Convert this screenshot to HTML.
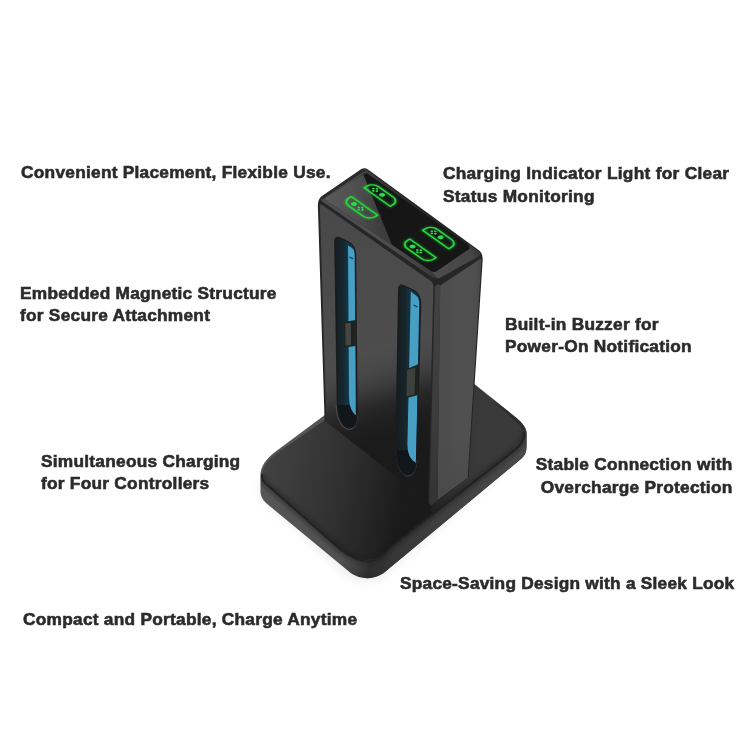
<!DOCTYPE html>
<html><head><meta charset="utf-8">
<style>
html,body{margin:0;padding:0;background:#fff;}
body{width:750px;height:750px;position:relative;overflow:hidden;font-family:"Liberation Sans",Arial,sans-serif;}
.t{position:absolute;font-weight:bold;font-size:17.3px;letter-spacing:0.25px;line-height:22.2px;color:#2b2b2b;-webkit-text-stroke:0.6px #2b2b2b;white-space:nowrap;transform:scaleX(1.0012);transform-origin:0 0;}
.r{text-align:right;transform-origin:100% 0;}
svg{position:absolute;left:0;top:0}
</style></head><body>

<svg width="750" height="750" viewBox="0 0 750 750">
<defs>
<linearGradient id="gFront" x1="380" y1="200" x2="463.9" y2="479.8" gradientUnits="userSpaceOnUse"><stop offset="0" stop-color="#494949"/><stop offset="0.49" stop-color="#4d4d4d"/><stop offset="0.557" stop-color="#474747"/><stop offset="0.607" stop-color="#3d3d3d"/><stop offset="0.672" stop-color="#282828"/><stop offset="0.72" stop-color="#202020"/><stop offset="0.787" stop-color="#1b1b1b"/><stop offset="1" stop-color="#191919"/></linearGradient>
<linearGradient id="gBevel" x1="0" y1="280" x2="0" y2="505" gradientUnits="userSpaceOnUse"><stop offset="0" stop-color="#424242"/><stop offset="0.6" stop-color="#3c3c3c"/><stop offset="1" stop-color="#333"/></linearGradient>
<linearGradient id="gSide" x1="440" y1="0" x2="482" y2="0" gradientUnits="userSpaceOnUse"><stop offset="0" stop-color="#4d4d4d"/><stop offset="0.5" stop-color="#505050"/><stop offset="0.85" stop-color="#4f4f4f"/><stop offset="1" stop-color="#474747"/></linearGradient>
<linearGradient id="gSideV" x1="0" y1="260" x2="0" y2="505" gradientUnits="userSpaceOnUse"><stop offset="0" stop-color="#000" stop-opacity="0"/><stop offset="0.7" stop-color="#000" stop-opacity="0"/><stop offset="1" stop-color="#000" stop-opacity="0.06"/></linearGradient>
<linearGradient id="gBaseTop" x1="262" y1="470" x2="440" y2="505" gradientUnits="userSpaceOnUse"><stop offset="0" stop-color="#424242"/><stop offset="0.16" stop-color="#3c3c3c"/><stop offset="0.42" stop-color="#313131"/><stop offset="0.68" stop-color="#222"/><stop offset="0.8" stop-color="#1a1a1a"/><stop offset="1" stop-color="#1a1a1a"/></linearGradient>
<linearGradient id="gBandL" x1="262" y1="490" x2="366" y2="575" gradientUnits="userSpaceOnUse"><stop offset="0" stop-color="#555"/><stop offset="0.78" stop-color="#515151"/><stop offset="0.92" stop-color="#3e3e3e"/><stop offset="1" stop-color="#2e2e2e"/></linearGradient>
<linearGradient id="gBandR" x1="366" y1="578" x2="526" y2="445" gradientUnits="userSpaceOnUse"><stop offset="0" stop-color="#2c2c2c"/><stop offset="0.2" stop-color="#383838"/><stop offset="0.5" stop-color="#404040"/><stop offset="1" stop-color="#4a4a4a"/></linearGradient>
<linearGradient id="gTopR" x1="431" y1="0" x2="520" y2="0" gradientUnits="userSpaceOnUse"><stop offset="0" stop-color="#222"/><stop offset="0.2" stop-color="#303030"/><stop offset="0.5" stop-color="#393939"/><stop offset="1" stop-color="#3a3a3a"/></linearGradient>
<linearGradient id="gRim" x1="424" y1="212" x2="381" y2="237.5" gradientUnits="userSpaceOnUse">
<stop offset="0" stop-color="#262626"/><stop offset="0.15" stop-color="#2b2b2b"/><stop offset="0.8" stop-color="#484848"/><stop offset="1" stop-color="#4e4e4e"/>
</linearGradient>
<linearGradient id="gRimR" x1="436" y1="276" x2="481" y2="252" gradientUnits="userSpaceOnUse">
<stop offset="0" stop-color="#4c4c4c"/><stop offset="0.8" stop-color="#464646"/><stop offset="1" stop-color="#333"/>
</linearGradient>
<linearGradient id="gGlassL" x1="325" y1="200" x2="385" y2="205" gradientUnits="userSpaceOnUse"><stop offset="0" stop-color="#5a5a5a"/><stop offset="0.5" stop-color="#4f4f4f"/><stop offset="1" stop-color="#3c3c3c"/></linearGradient>
<linearGradient id="gTeal1" x1="335" y1="0" x2="347" y2="0" gradientUnits="userSpaceOnUse">
<stop offset="0" stop-color="#151e22"/><stop offset="0.7" stop-color="#17272e"/><stop offset="1" stop-color="#123546"/></linearGradient>
<linearGradient id="gTeal2" x1="398" y1="0" x2="410" y2="0" gradientUnits="userSpaceOnUse">
<stop offset="0" stop-color="#151e22"/><stop offset="0.7" stop-color="#17272e"/><stop offset="1" stop-color="#123546"/></linearGradient>
<filter id="blur6" x="-20%" y="-20%" width="140%" height="140%"><feGaussianBlur stdDeviation="6"/></filter>
<filter id="blur2" x="-20%" y="-20%" width="140%" height="140%"><feGaussianBlur stdDeviation="1.8"/></filter>
<filter id="blur1" x="-20%" y="-20%" width="140%" height="140%"><feGaussianBlur stdDeviation="0.7"/></filter>
<filter id="glow" x="-30%" y="-30%" width="160%" height="160%"><feGaussianBlur stdDeviation="1.2"/></filter>
<clipPath id="cSlot1"><path d="M335.4,242 Q335.3,236.8 339,238.2 L348,242.5 Q355,246 355,255 L356.5,414 Q356.6,428 348.5,427.6 Q338.7,425 337.9,403 Z"/></clipPath>
<clipPath id="cSlot2"><path d="M399.2,290 Q399.1,284.5 403,286 L413,290.5 Q420.3,294.5 420.1,304 L416,459 Q415.5,475.5 406.5,474.6 Q397,471 396.5,449 Z"/></clipPath>
<clipPath id="cSil"><path d="M345,400 L277,450.5 Q260.5,462.5 260.5,475 L260.5,492 Q260.8,498 266,503 L351,573.3 Q366,583 383,573.5 L521.5,458.5 Q526.7,454 526.5,447 L526.5,432 Q526,426 516.8,418 L474.4,384 Z"/></clipPath>
<clipPath id="cTop"><path d="M345,406 L277.5,452.8 Q256.5,467.5 264.5,482.5 L335,545 Q368.5,574.5 391,546 L515.5,448.6 Q529,438 520.5,425.5 L474.4,384.8 Z"/></clipPath>
<clipPath id="cRim"><path d="M361.3,170.3 Q364.5,168.2 367.7,170.4 L478.8,251.5 Q482,254.4 478.5,256.6 L440.5,277.5 Q436.5,279.7 432.5,277.3 L322,201.2 Q319,198.6 322,196.6 Z"/></clipPath>
<clipPath id="cGlass"><path d="M364.3,174 Q366,172.6 368,173.9 L468.5,245.4 Q471.3,247.6 468.6,249.4 L436.6,271.3 Q433.8,273 431,271 L326,200.5 Q323.7,198.6 326,196.9 Z"/></clipPath>
</defs>

<!-- shadow -->
<path d="M258,486 L262,496 L352,578 Q366,585 383,575 L522,452 L500,440 L380,540 L290,480 Z" fill="#000" opacity="0.09" filter="url(#blur6)"/>

<!-- base: band/silhouette -->
<path d="M345,400 L277,450.5 Q260.5,462.5 260.5,475 L260.5,492 Q260.8,498 266,503 L351,573.3 Q366,583 383,573.5 L521.5,458.5 Q526.7,454 526.5,447 L526.5,432 Q526,426 516.8,418 L474.4,384 Z" fill="url(#gBandL)"/>
<!-- right-front band darker -->
<g clip-path="url(#cSil)"><path d="M364,592 L370,560 L530,425 L545,460 Z" fill="url(#gBandR)"/></g>
<!-- base top face -->
<path d="M345,406 L277.5,452.8 Q256.5,467.5 264.5,482.5 L335,545 Q368.5,574.5 391,546 L515.5,448.6 Q529,438 520.5,425.5 L474.4,384.8 Z" fill="url(#gBaseTop)"/>
<g clip-path="url(#cTop)"><path d="M431,505 L437,560 L540,460 L520.5,420 L474.4,384.8 Z" fill="url(#gTopR)"/></g>
<!-- seam on base top edge -->
<g clip-path="url(#cSil)"><path d="M262,474 Q261.5,479.5 264.5,482.5 L335,545 Q353,561 369,561.5 Q380,560.5 391,547 L515.5,449.6 Q526,441 524,431" fill="none" stroke="#1c1c1c" stroke-width="8" opacity="0.35" filter="url(#blur2)"/></g>
<path d="M262,474 Q261.5,479.5 264.5,482.5 L335,545 Q353,561 369,561.5" fill="none" stroke="#222" stroke-width="1.9" filter="url(#blur1)"/>
<path d="M369,561.8 Q380,560.5 391,547 L515.5,449.6 Q526,441 524,431" fill="none" stroke="#222" stroke-width="1.9" filter="url(#blur1)"/>

<!-- tower silhouette (dark seam colour) -->
<path d="M361,169.3 Q364.5,167 368,169.4 L479.5,250.8 Q483.2,254 482.6,261 L468.6,477.5 L431,506 L428,502.5 L324.6,420.5 L317.9,207 Q317.4,199.2 322,196 Z" fill="#262626"/>
<!-- tower side -->
<path d="M440.2,285.5 L437.5,500 L467.6,477.8 L481.4,260.5 Q481.4,258.4 479.4,259.4 Z" fill="url(#gSide)"/>
<path d="M440.2,285.5 L437.5,500 L467.6,477.8 L481.4,260.5 Q481.4,258.4 479.4,259.4 Z" fill="url(#gSideV)"/>
<!-- tower front -->
<path d="M319.9,206.5 Q319.9,203.5 322.3,205 L431,281.3 Q433.4,283 433.4,286 L428,502.5 L326.3,421.3 Z" fill="url(#gFront)"/>
<!-- bevel strip -->
<path d="M434.9,287 L429.5,503 L431,505.5 L437.5,500 L440.2,285.5 Q437.5,283 434.9,287 Z" fill="url(#gBevel)"/>

<!-- tower top rim -->
<path d="M361.3,170.3 Q364.5,168.2 367.7,170.4 L478.8,251.5 Q482,254.4 478.5,256.6 L440.5,277.5 Q436.5,279.7 432.5,277.3 L322,201.2 Q319,198.6 322,196.6 Z" fill="url(#gRim)"/>
<path d="M431,271 L470,245 L484,255 L440,281 Z" fill="url(#gRimR)" clip-path="url(#cRim)"/>
<path d="M363.5,168 L320,197.2" fill="none" stroke="#2b2b2b" stroke-width="6" filter="url(#blur1)" clip-path="url(#cRim)"/>
<!-- glass -->
<path d="M364.3,174 Q366,172.6 368,173.9 L468.5,245.4 Q471.3,247.6 468.6,249.4 L436.6,271.3 Q433.8,273 431,271 L326,200.5 Q323.7,198.6 326,196.9 Z" fill="#161616"/>
<g clip-path="url(#cGlass)">
<path d="M350,160 L361.5,170 L394.8,252 L360,252 L300,205 L300,190 Z" fill="url(#gGlassL)"/>
</g>

<!-- slots -->
<path d="M336.3,405 Q337.5,426.5 348.5,429.3 Q356.6,429.5 357.3,414" fill="none" stroke="#474747" stroke-width="1.7" filter="url(#blur1)"/>
<path d="M335.4,242 Q335.3,236.8 339,238.2 L348,242.5 Q355,246 355,255 L356.5,414 Q356.6,428 348.5,427.6 Q338.7,425 337.9,403 Z" fill="#10161a" stroke="#1c1c1c" stroke-width="2.4" filter="url(#blur1)"/>
<path d="M335.4,242 Q335.3,236.8 339,238.2 L348,242.5 Q355,246 355,255 L356.5,414 Q356.6,428 348.5,427.6 Q338.7,425 337.9,403 Z" fill="#10161a"/>
<g clip-path="url(#cSlot1)">
<rect x="330" y="230" width="35" height="175" fill="url(#gTeal1)"/>
<path d="M348,245.6 L349,398 Q349.5,411.5 356.5,415.5 L355.8,412 L354.6,252.5 Q354.4,249.5 352,248 Z" fill="#47a0c4"/>
<path d="M344,322 L344.4,347.5 L358,345.5 L358,319.5 Z" fill="#1d221f"/><path d="M345.2,323.5 L345.5,345.8 L351,345 L350.8,322.6 Z" fill="#434643"/>
<path d="M349.5,257 L353,258.8" stroke="#123a4a" stroke-width="1.4" fill="none"/>
</g>
<path d="M396.5,450 Q397,471.5 406.5,475.6 Q415.5,476.5 416.7,460" fill="none" stroke="#474747" stroke-width="1.7" filter="url(#blur1)"/>
<path d="M399.2,290 Q399.1,284.5 403,286 L413,290.5 Q420.3,294.5 420.1,304 L416,459 Q415.5,475.5 406.5,474.6 Q397,471 396.5,449 Z" fill="#10161a" stroke="#1c1c1c" stroke-width="2.4" filter="url(#blur1)"/>
<path d="M399.2,290 Q399.1,284.5 403,286 L413,290.5 Q420.3,294.5 420.1,304 L416,459 Q415.5,475.5 406.5,474.6 Q397,471 396.5,449 Z" fill="#10161a"/>
<g clip-path="url(#cSlot2)">
<rect x="390" y="280" width="35" height="170" fill="url(#gTeal2)"/>
<path d="M410.8,291.6 L407.4,445 Q407.5,458.5 416,463 L419.2,301.5 Q419.2,298 416.5,296 Z" fill="#47a0c4"/>
<path d="M405.5,369.5 L404.8,398.5 L420,394.5 L420,363.5 Z" fill="#1d221f"/><path d="M407,370 L406.5,396.5 L414.6,394.6 L415.3,367.5 Z" fill="#3c413c"/>
<path d="M413.6,305 L417.5,307" stroke="#123a4a" stroke-width="1.4" fill="none"/>
</g>

<g transform="matrix(0.815 0.58 -0.863 0.507 380.7 195)"><path d="M-16,4 L-16,1 A7 7 0 0 1 -9,-6 L9,-6 A7 7 0 0 1 16,1 L16,4 Z" fill="none" stroke="#22e03a" stroke-width="3.4" opacity="0.3" filter="url(#glow)"/><path d="M-16,4 L-16,1 A7 7 0 0 1 -9,-6 L9,-6 A7 7 0 0 1 16,1 L16,4 Z" fill="none" stroke="#27d63f" stroke-width="1.7" stroke-linejoin="round"/><circle cx="0.6" cy="-1.0" r="2.5" fill="#2bdc44"/><circle cx="-10.100000000000001" cy="-1.0" r="1.15" fill="#2bdc44"/><circle cx="-5.7" cy="-1.0" r="1.15" fill="#2bdc44"/><circle cx="-7.9" cy="-3.0" r="1.15" fill="#2bdc44"/><circle cx="-7.9" cy="1.0" r="1.15" fill="#2bdc44"/></g><g transform="matrix(0.815 0.58 -0.863 0.507 361 207.9)"><path d="M-16,-4 L16,-4 L16,-1 A7 7 0 0 1 9,6 L-9,6 A7 7 0 0 1 -16,-1 Z" fill="none" stroke="#22e03a" stroke-width="3.4" opacity="0.3" filter="url(#glow)"/><path d="M-16,-4 L16,-4 L16,-1 A7 7 0 0 1 9,6 L-9,6 A7 7 0 0 1 -16,-1 Z" fill="none" stroke="#27d63f" stroke-width="1.7" stroke-linejoin="round"/><circle cx="-7.5" cy="1.0" r="2.5" fill="#2bdc44"/><circle cx="-1.6" cy="1.0" r="1.15" fill="#2bdc44"/><circle cx="2.8000000000000003" cy="1.0" r="1.15" fill="#2bdc44"/><circle cx="0.6" cy="-1.0" r="1.15" fill="#2bdc44"/><circle cx="0.6" cy="3.0" r="1.15" fill="#2bdc44"/></g><g transform="matrix(0.815 0.58 -0.863 0.507 439.2 237.5)"><path d="M-16,4 L-16,1 A7 7 0 0 1 -9,-6 L9,-6 A7 7 0 0 1 16,1 L16,4 Z" fill="none" stroke="#22e03a" stroke-width="3.4" opacity="0.3" filter="url(#glow)"/><path d="M-16,4 L-16,1 A7 7 0 0 1 -9,-6 L9,-6 A7 7 0 0 1 16,1 L16,4 Z" fill="none" stroke="#27d63f" stroke-width="1.7" stroke-linejoin="round"/><circle cx="0.6" cy="-1.0" r="2.5" fill="#2bdc44"/><circle cx="-10.100000000000001" cy="-1.0" r="1.15" fill="#2bdc44"/><circle cx="-5.7" cy="-1.0" r="1.15" fill="#2bdc44"/><circle cx="-7.9" cy="-3.0" r="1.15" fill="#2bdc44"/><circle cx="-7.9" cy="1.0" r="1.15" fill="#2bdc44"/></g><g transform="matrix(0.815 0.58 -0.863 0.507 419.5 250.4)"><path d="M-16,-4 L16,-4 L16,-1 A7 7 0 0 1 9,6 L-9,6 A7 7 0 0 1 -16,-1 Z" fill="none" stroke="#22e03a" stroke-width="3.4" opacity="0.3" filter="url(#glow)"/><path d="M-16,-4 L16,-4 L16,-1 A7 7 0 0 1 9,6 L-9,6 A7 7 0 0 1 -16,-1 Z" fill="none" stroke="#27d63f" stroke-width="1.7" stroke-linejoin="round"/><circle cx="-7.5" cy="1.0" r="2.5" fill="#2bdc44"/><circle cx="-1.6" cy="1.0" r="1.15" fill="#2bdc44"/><circle cx="2.8000000000000003" cy="1.0" r="1.15" fill="#2bdc44"/><circle cx="0.6" cy="-1.0" r="1.15" fill="#2bdc44"/><circle cx="0.6" cy="3.0" r="1.15" fill="#2bdc44"/></g>
</svg>

<div class="t" style="left:21px;top:161.30px"><span>Convenient Placement, Flexible Use.</span></div>
<div class="t" style="left:443px;top:162.00px;line-height:22.6px;letter-spacing:0.28px"><span>Charging Indicator Light for Clear</span><br><span>Status Monitoring</span></div>
<div class="t" style="left:20.3px;top:281.50px"><span>Embedded Magnetic Structure</span><br><span>for Secure Attachment</span></div>
<div class="t" style="left:504.5px;top:312.70px;line-height:22px"><span>Built-in Buzzer for</span><br><span>Power-On Notification</span></div>
<div class="t" style="left:41px;top:450.15px"><span>Simultaneous Charging</span><br><span>for Four Controllers</span></div>
<div class="t r" style="right:17.75px;top:453.30px;line-height:22.5px"><span>Stable Connection with</span><br><span>Overcharge Protection</span></div>
<div class="t" style="left:400px;top:571.75px;letter-spacing:0.228px"><span>Space-Saving Design with a Sleek Look</span></div>
<div class="t" style="left:22.9px;top:608.10px"><span>Compact and Portable, Charge Anytime</span></div>
</body></html>
